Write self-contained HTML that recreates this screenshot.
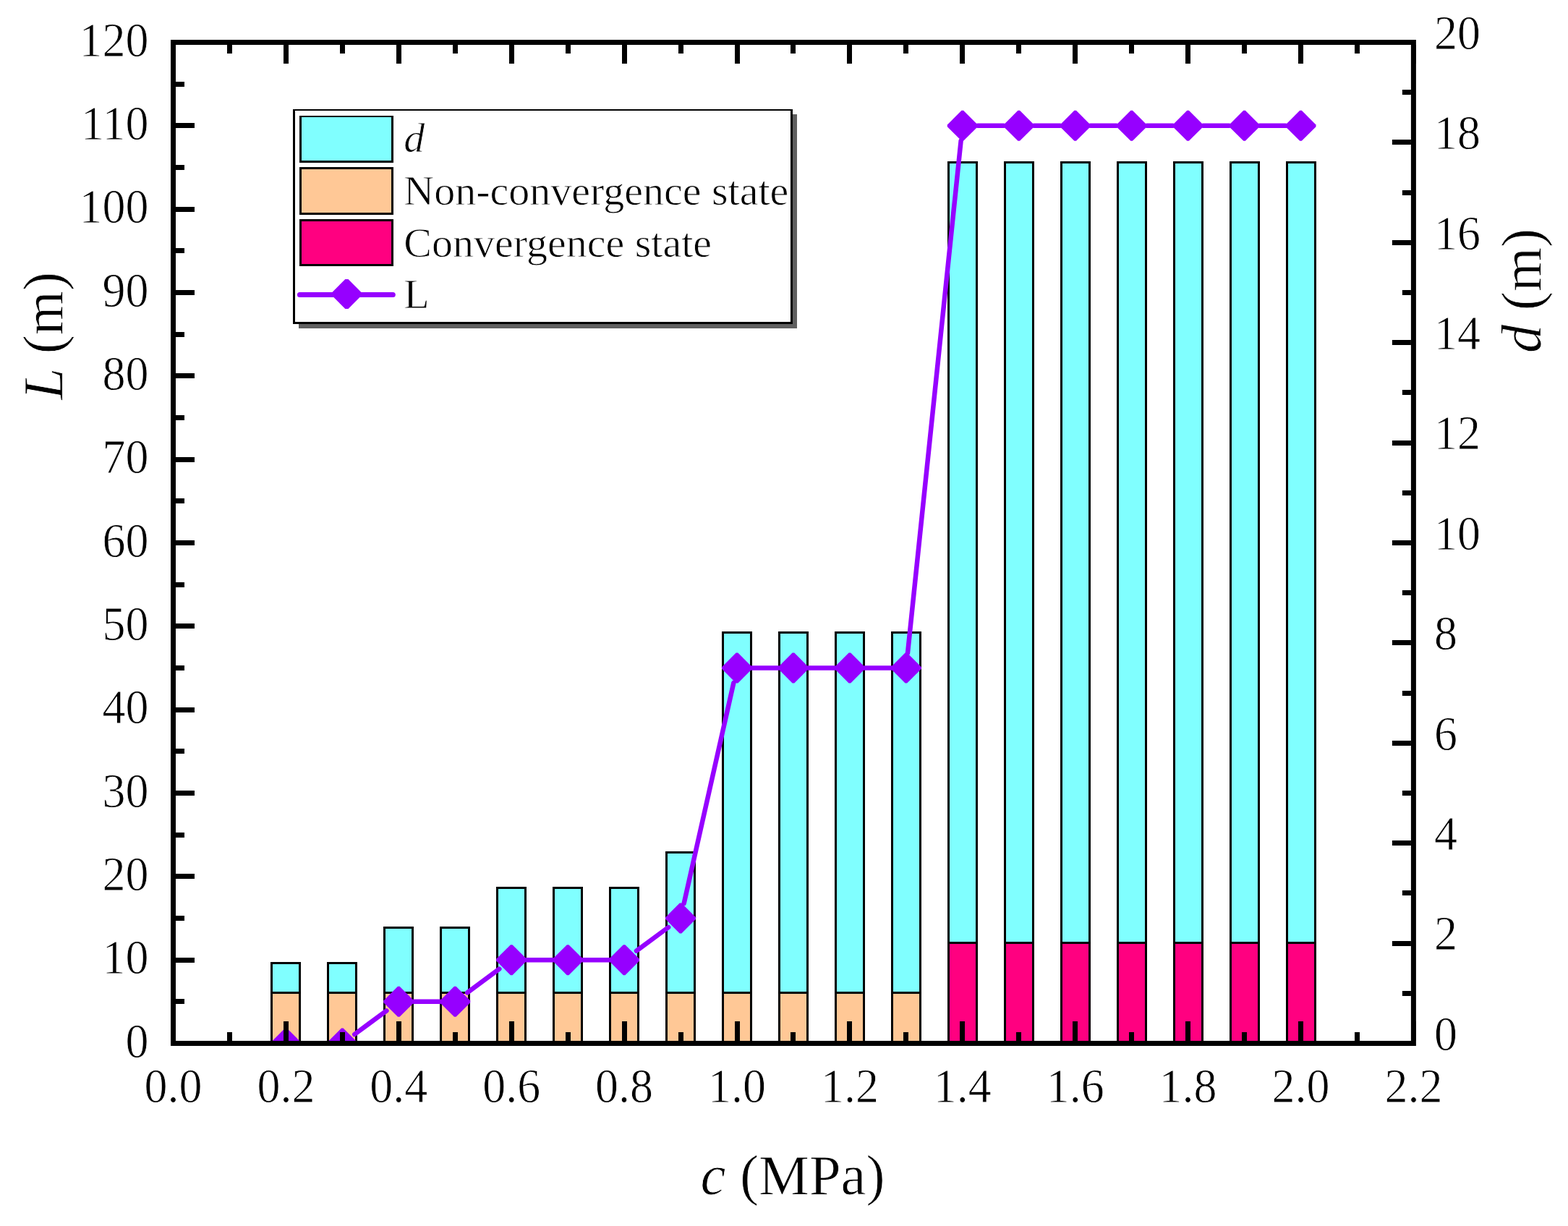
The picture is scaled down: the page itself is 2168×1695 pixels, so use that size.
<!DOCTYPE html><html><head><meta charset="utf-8"><style>html,body{margin:0;padding:0;background:#fff;}svg{display:block;}text{font-family:"Liberation Serif","Times New Roman",serif;fill:#000;stroke:#fff;stroke-width:0.8px;}</style></head><body>
<svg width="2168" height="1695" viewBox="0 0 2168 1695">
<rect x="0" y="0" width="2168" height="1695" fill="#fff"/>
<defs><clipPath id="pc"><rect x="239.50" y="58.50" width="1714.90" height="1384.00"/></clipPath></defs>
<g clip-path="url(#pc)" stroke="#000" stroke-width="3">
<rect x="375.50" y="1331.50" width="39.00" height="41.00" fill="#80FFFF"/>
<rect x="375.50" y="1372.50" width="39.00" height="75.00" fill="#FFC896"/>
<rect x="453.50" y="1331.50" width="39.00" height="41.00" fill="#80FFFF"/>
<rect x="453.50" y="1372.50" width="39.00" height="75.00" fill="#FFC896"/>
<rect x="531.50" y="1282.50" width="39.00" height="90.00" fill="#80FFFF"/>
<rect x="531.50" y="1372.50" width="39.00" height="75.00" fill="#FFC896"/>
<rect x="609.50" y="1282.50" width="39.00" height="90.00" fill="#80FFFF"/>
<rect x="609.50" y="1372.50" width="39.00" height="75.00" fill="#FFC896"/>
<rect x="687.50" y="1227.50" width="39.00" height="145.00" fill="#80FFFF"/>
<rect x="687.50" y="1372.50" width="39.00" height="75.00" fill="#FFC896"/>
<rect x="765.50" y="1227.50" width="39.00" height="145.00" fill="#80FFFF"/>
<rect x="765.50" y="1372.50" width="39.00" height="75.00" fill="#FFC896"/>
<rect x="843.50" y="1227.50" width="39.00" height="145.00" fill="#80FFFF"/>
<rect x="843.50" y="1372.50" width="39.00" height="75.00" fill="#FFC896"/>
<rect x="921.50" y="1178.50" width="39.00" height="194.00" fill="#80FFFF"/>
<rect x="921.50" y="1372.50" width="39.00" height="75.00" fill="#FFC896"/>
<rect x="999.50" y="874.50" width="39.00" height="498.00" fill="#80FFFF"/>
<rect x="999.50" y="1372.50" width="39.00" height="75.00" fill="#FFC896"/>
<rect x="1077.50" y="874.50" width="39.00" height="498.00" fill="#80FFFF"/>
<rect x="1077.50" y="1372.50" width="39.00" height="75.00" fill="#FFC896"/>
<rect x="1155.50" y="874.50" width="39.00" height="498.00" fill="#80FFFF"/>
<rect x="1155.50" y="1372.50" width="39.00" height="75.00" fill="#FFC896"/>
<rect x="1233.50" y="874.50" width="39.00" height="498.00" fill="#80FFFF"/>
<rect x="1233.50" y="1372.50" width="39.00" height="75.00" fill="#FFC896"/>
<rect x="1311.50" y="224.50" width="39.00" height="1079.00" fill="#80FFFF"/>
<rect x="1311.50" y="1303.50" width="39.00" height="144.00" fill="#FF0080"/>
<rect x="1389.50" y="224.50" width="39.00" height="1079.00" fill="#80FFFF"/>
<rect x="1389.50" y="1303.50" width="39.00" height="144.00" fill="#FF0080"/>
<rect x="1467.50" y="224.50" width="39.00" height="1079.00" fill="#80FFFF"/>
<rect x="1467.50" y="1303.50" width="39.00" height="144.00" fill="#FF0080"/>
<rect x="1545.50" y="224.50" width="39.00" height="1079.00" fill="#80FFFF"/>
<rect x="1545.50" y="1303.50" width="39.00" height="144.00" fill="#FF0080"/>
<rect x="1623.50" y="224.50" width="39.00" height="1079.00" fill="#80FFFF"/>
<rect x="1623.50" y="1303.50" width="39.00" height="144.00" fill="#FF0080"/>
<rect x="1701.50" y="224.50" width="39.00" height="1079.00" fill="#80FFFF"/>
<rect x="1701.50" y="1303.50" width="39.00" height="144.00" fill="#FF0080"/>
<rect x="1779.50" y="224.50" width="39.00" height="1079.00" fill="#80FFFF"/>
<rect x="1779.50" y="1303.50" width="39.00" height="144.00" fill="#FF0080"/>
</g>
<g clip-path="url(#pc)">
<path d="M416.40 1442.50L452.35 1442.50M490.23 1430.01L534.42 1397.32M572.30 1384.83L608.25 1384.83M646.13 1372.34L690.32 1339.66M728.20 1327.17L764.15 1327.17M806.15 1327.17L842.10 1327.17M879.98 1314.68L924.17 1281.99M945.67 1249.01L1014.38 943.99M1040.00 923.50L1075.95 923.50M1117.95 923.50L1153.90 923.50M1195.90 923.50L1231.85 923.50M1255.02 902.61L1328.63 194.72M1351.80 173.83L1387.75 173.83M1429.75 173.83L1465.70 173.83M1507.70 173.83L1543.65 173.83M1585.65 173.83L1621.60 173.83M1663.60 173.83L1699.55 173.83M1741.55 173.83L1777.50 173.83" stroke="#9600FF" stroke-width="6.5" stroke-linecap="round" fill="none"/>
<path d="M394.10 1421.50L396.70 1421.50L416.40 1441.20L416.40 1443.80L396.70 1463.50L394.10 1463.50L374.40 1443.80L374.40 1441.20Z" fill="#9600FF"/>
<path d="M472.05 1421.50L474.65 1421.50L494.35 1441.20L494.35 1443.80L474.65 1463.50L472.05 1463.50L452.35 1443.80L452.35 1441.20Z" fill="#9600FF"/>
<path d="M550.00 1363.83L552.60 1363.83L572.30 1383.53L572.30 1386.13L552.60 1405.83L550.00 1405.83L530.30 1386.13L530.30 1383.53Z" fill="#9600FF"/>
<path d="M627.95 1363.83L630.55 1363.83L650.25 1383.53L650.25 1386.13L630.55 1405.83L627.95 1405.83L608.25 1386.13L608.25 1383.53Z" fill="#9600FF"/>
<path d="M705.90 1306.17L708.50 1306.17L728.20 1325.87L728.20 1328.47L708.50 1348.17L705.90 1348.17L686.20 1328.47L686.20 1325.87Z" fill="#9600FF"/>
<path d="M783.85 1306.17L786.45 1306.17L806.15 1325.87L806.15 1328.47L786.45 1348.17L783.85 1348.17L764.15 1328.47L764.15 1325.87Z" fill="#9600FF"/>
<path d="M861.80 1306.17L864.40 1306.17L884.10 1325.87L884.10 1328.47L864.40 1348.17L861.80 1348.17L842.10 1328.47L842.10 1325.87Z" fill="#9600FF"/>
<path d="M939.75 1248.50L942.35 1248.50L962.05 1268.20L962.05 1270.80L942.35 1290.50L939.75 1290.50L920.05 1270.80L920.05 1268.20Z" fill="#9600FF"/>
<path d="M1017.70 902.50L1020.30 902.50L1040.00 922.20L1040.00 924.80L1020.30 944.50L1017.70 944.50L998.00 924.80L998.00 922.20Z" fill="#9600FF"/>
<path d="M1095.65 902.50L1098.25 902.50L1117.95 922.20L1117.95 924.80L1098.25 944.50L1095.65 944.50L1075.95 924.80L1075.95 922.20Z" fill="#9600FF"/>
<path d="M1173.60 902.50L1176.20 902.50L1195.90 922.20L1195.90 924.80L1176.20 944.50L1173.60 944.50L1153.90 924.80L1153.90 922.20Z" fill="#9600FF"/>
<path d="M1251.55 902.50L1254.15 902.50L1273.85 922.20L1273.85 924.80L1254.15 944.50L1251.55 944.50L1231.85 924.80L1231.85 922.20Z" fill="#9600FF"/>
<path d="M1329.50 152.83L1332.10 152.83L1351.80 172.53L1351.80 175.13L1332.10 194.83L1329.50 194.83L1309.80 175.13L1309.80 172.53Z" fill="#9600FF"/>
<path d="M1407.45 152.83L1410.05 152.83L1429.75 172.53L1429.75 175.13L1410.05 194.83L1407.45 194.83L1387.75 175.13L1387.75 172.53Z" fill="#9600FF"/>
<path d="M1485.40 152.83L1488.00 152.83L1507.70 172.53L1507.70 175.13L1488.00 194.83L1485.40 194.83L1465.70 175.13L1465.70 172.53Z" fill="#9600FF"/>
<path d="M1563.35 152.83L1565.95 152.83L1585.65 172.53L1585.65 175.13L1565.95 194.83L1563.35 194.83L1543.65 175.13L1543.65 172.53Z" fill="#9600FF"/>
<path d="M1641.30 152.83L1643.90 152.83L1663.60 172.53L1663.60 175.13L1643.90 194.83L1641.30 194.83L1621.60 175.13L1621.60 172.53Z" fill="#9600FF"/>
<path d="M1719.25 152.83L1721.85 152.83L1741.55 172.53L1741.55 175.13L1721.85 194.83L1719.25 194.83L1699.55 175.13L1699.55 172.53Z" fill="#9600FF"/>
<path d="M1797.20 152.83L1799.80 152.83L1819.50 172.53L1819.50 175.13L1799.80 194.83L1797.20 194.83L1777.50 175.13L1777.50 172.53Z" fill="#9600FF"/>
</g>
<g stroke="#000" stroke-width="7" fill="none">
<rect x="239.50" y="58.50" width="1714.90" height="1384.00"/>
<path d="M239.50 1439.00V1412.00M239.50 62.00V88.00M317.50 1439.00V1427.00M317.50 62.00V74.00M395.50 1439.00V1412.00M395.50 62.00V88.00M473.50 1439.00V1427.00M473.50 62.00V74.00M551.50 1439.00V1412.00M551.50 62.00V88.00M629.50 1439.00V1427.00M629.50 62.00V74.00M707.50 1439.00V1412.00M707.50 62.00V88.00M785.50 1439.00V1427.00M785.50 62.00V74.00M863.50 1439.00V1412.00M863.50 62.00V88.00M941.50 1439.00V1427.00M941.50 62.00V74.00M1019.50 1439.00V1412.00M1019.50 62.00V88.00M1096.50 1439.00V1427.00M1096.50 62.00V74.00M1174.50 1439.00V1412.00M1174.50 62.00V88.00M1252.50 1439.00V1427.00M1252.50 62.00V74.00M1330.50 1439.00V1412.00M1330.50 62.00V88.00M1408.50 1439.00V1427.00M1408.50 62.00V74.00M1486.50 1439.00V1412.00M1486.50 62.00V88.00M1564.50 1439.00V1427.00M1564.50 62.00V74.00M1642.50 1439.00V1412.00M1642.50 62.00V88.00M1720.50 1439.00V1427.00M1720.50 62.00V74.00M1798.50 1439.00V1412.00M1798.50 62.00V88.00M1876.50 1439.00V1427.00M1876.50 62.00V74.00M1954.50 1439.00V1412.00M1954.50 62.00V88.00M243.00 1442.50H269.00M243.00 1384.50H255.00M243.00 1327.50H269.00M243.00 1269.50H255.00M243.00 1211.50H269.00M243.00 1154.50H255.00M243.00 1096.50H269.00M243.00 1038.50H255.00M243.00 981.50H269.00M243.00 923.50H255.00M243.00 865.50H269.00M243.00 808.50H255.00M243.00 750.50H269.00M243.00 692.50H255.00M243.00 635.50H269.00M243.00 577.50H255.00M243.00 519.50H269.00M243.00 462.50H255.00M243.00 404.50H269.00M243.00 346.50H255.00M243.00 289.50H269.00M243.00 231.50H255.00M243.00 173.50H269.00M243.00 116.50H255.00M243.00 58.50H269.00M1950.90 1442.50H1924.90M1950.90 1373.50H1938.90M1950.90 1304.50H1924.90M1950.90 1234.50H1938.90M1950.90 1165.50H1924.90M1950.90 1096.50H1938.90M1950.90 1027.50H1924.90M1950.90 958.50H1938.90M1950.90 888.50H1924.90M1950.90 819.50H1938.90M1950.90 750.50H1924.90M1950.90 681.50H1938.90M1950.90 612.50H1924.90M1950.90 542.50H1938.90M1950.90 473.50H1924.90M1950.90 404.50H1938.90M1950.90 335.50H1924.90M1950.90 266.50H1938.90M1950.90 196.50H1924.90M1950.90 127.50H1938.90M1950.90 58.50H1924.90"/>
</g>
<text transform="translate(205.50 1461.50) scale(1 1.060)" font-size="64" text-anchor="end">0</text>
<text transform="translate(205.50 1346.17) scale(1 1.060)" font-size="64" text-anchor="end">10</text>
<text transform="translate(205.50 1230.83) scale(1 1.060)" font-size="64" text-anchor="end">20</text>
<text transform="translate(205.50 1115.50) scale(1 1.060)" font-size="64" text-anchor="end">30</text>
<text transform="translate(205.50 1000.17) scale(1 1.060)" font-size="64" text-anchor="end">40</text>
<text transform="translate(205.50 884.83) scale(1 1.060)" font-size="64" text-anchor="end">50</text>
<text transform="translate(205.50 769.50) scale(1 1.060)" font-size="64" text-anchor="end">60</text>
<text transform="translate(205.50 654.17) scale(1 1.060)" font-size="64" text-anchor="end">70</text>
<text transform="translate(205.50 538.83) scale(1 1.060)" font-size="64" text-anchor="end">80</text>
<text transform="translate(205.50 423.50) scale(1 1.060)" font-size="64" text-anchor="end">90</text>
<text transform="translate(205.50 308.17) scale(1 1.060)" font-size="64" text-anchor="end">100</text>
<text transform="translate(205.50 192.83) scale(1 1.060)" font-size="64" text-anchor="end">110</text>
<text transform="translate(205.50 77.50) scale(1 1.060)" font-size="64" text-anchor="end">120</text>
<text transform="translate(1983.00 1451.80) scale(1 1.060)" font-size="64" text-anchor="start">0</text>
<text transform="translate(1983.00 1313.40) scale(1 1.060)" font-size="64" text-anchor="start">2</text>
<text transform="translate(1983.00 1175.00) scale(1 1.060)" font-size="64" text-anchor="start">4</text>
<text transform="translate(1983.00 1036.60) scale(1 1.060)" font-size="64" text-anchor="start">6</text>
<text transform="translate(1983.00 898.20) scale(1 1.060)" font-size="64" text-anchor="start">8</text>
<text transform="translate(1983.00 759.80) scale(1 1.060)" font-size="64" text-anchor="start">10</text>
<text transform="translate(1983.00 621.40) scale(1 1.060)" font-size="64" text-anchor="start">12</text>
<text transform="translate(1983.00 483.00) scale(1 1.060)" font-size="64" text-anchor="start">14</text>
<text transform="translate(1983.00 344.60) scale(1 1.060)" font-size="64" text-anchor="start">16</text>
<text transform="translate(1983.00 206.20) scale(1 1.060)" font-size="64" text-anchor="start">18</text>
<text transform="translate(1983.00 67.80) scale(1 1.060)" font-size="64" text-anchor="start">20</text>
<text transform="translate(239.50 1524.00) scale(1 1.060)" font-size="64" text-anchor="middle">0.0</text>
<text transform="translate(395.40 1524.00) scale(1 1.060)" font-size="64" text-anchor="middle">0.2</text>
<text transform="translate(551.30 1524.00) scale(1 1.060)" font-size="64" text-anchor="middle">0.4</text>
<text transform="translate(707.20 1524.00) scale(1 1.060)" font-size="64" text-anchor="middle">0.6</text>
<text transform="translate(863.10 1524.00) scale(1 1.060)" font-size="64" text-anchor="middle">0.8</text>
<text transform="translate(1019.00 1524.00) scale(1 1.060)" font-size="64" text-anchor="middle">1.0</text>
<text transform="translate(1174.90 1524.00) scale(1 1.060)" font-size="64" text-anchor="middle">1.2</text>
<text transform="translate(1330.80 1524.00) scale(1 1.060)" font-size="64" text-anchor="middle">1.4</text>
<text transform="translate(1486.70 1524.00) scale(1 1.060)" font-size="64" text-anchor="middle">1.6</text>
<text transform="translate(1642.60 1524.00) scale(1 1.060)" font-size="64" text-anchor="middle">1.8</text>
<text transform="translate(1798.50 1524.00) scale(1 1.060)" font-size="64" text-anchor="middle">2.0</text>
<text transform="translate(1954.40 1524.00) scale(1 1.060)" font-size="64" text-anchor="middle">2.2</text>
<text x="1096" y="1650.8" font-size="78.5" text-anchor="middle"><tspan font-style="italic">c</tspan> (MPa)</text>
<text transform="translate(85.7 464.3) rotate(-90)" font-size="78.5" text-anchor="middle"><tspan font-style="italic">L</tspan> (m)</text>
<text transform="translate(2129.6 401.9) rotate(-90)" font-size="78.5" text-anchor="middle"><tspan font-style="italic">d</tspan> (m)</text>
<rect x="413" y="158" width="689" height="296" fill="#606060"/>
<rect x="405" y="151" width="691" height="297" fill="#000"/>
<rect x="408" y="153" width="685" height="292" fill="#fff"/>
<rect x="414" y="160" width="130" height="65" fill="#000"/>
<rect x="417" y="162" width="124" height="60" fill="#80FFFF"/>
<rect x="414" y="231" width="130" height="66" fill="#000"/>
<rect x="417" y="234" width="124" height="60" fill="#FFC896"/>
<rect x="414" y="303" width="130" height="65" fill="#000"/>
<rect x="417" y="306" width="124" height="59" fill="#FF0080"/>
<path d="M414.4 407.5H543.3" stroke="#9600FF" stroke-width="7" stroke-linecap="round"/>
<path d="M477.30 386.00L481.50 386.00L498.90 403.40L498.90 409.60L481.50 427.00L477.30 427.00L459.90 409.60L459.90 403.40Z" fill="#9600FF"/>
<text x="558.3" y="210.4" font-size="58" font-style="italic">d</text>
<text x="558.3" y="283" font-size="58">Non-convergence state</text>
<text x="558.3" y="355" font-size="58">Convergence state</text>
<text x="558.3" y="425.6" font-size="58">L</text>
</svg></body></html>
